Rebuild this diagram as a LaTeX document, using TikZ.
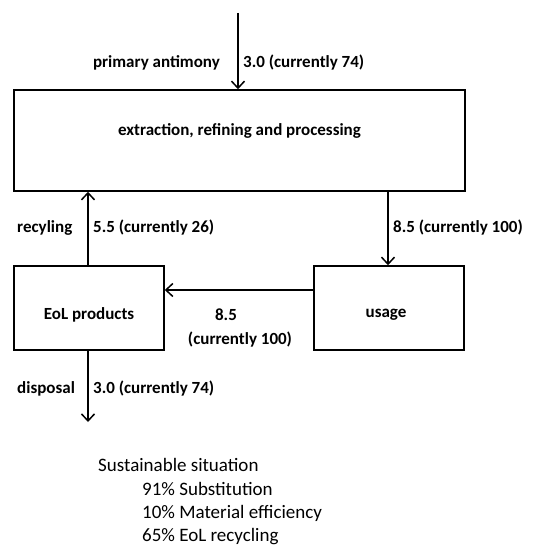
\documentclass[tikz,border=0pt]{standalone}
\usepackage{fontspec}
\setmainfont{Carlito}
\usetikzlibrary{arrows.meta}
\tikzset{
  box/.style={draw, line width=1.5bp, minimum width=#1, inner sep=0pt},
  arr/.style={line width=1.5bp, -{Straight Barb[length=7bp,width=13bp,line width=1.5bp]}},
  lab/.style={font=\fontsize{17bp}{20bp}\selectfont\bfseries, inner sep=0pt},
  sit/.style={font=\fontsize{19bp}{24.5bp}\selectfont, inner sep=0pt, anchor=west}
}
\begin{document}
\begin{tikzpicture}[x=1bp,y=-1bp]
\useasboundingbox (0,0) rectangle (558,547);
% boxes
\node[box=451bp, minimum height=101bp, label={[lab, yshift=10bp]center:extraction, refining and processing}] (ext) at (239.5,140.5) {};
\node[box=150bp, minimum height=84bp, label={[lab, yshift=-7bp]center:EoL products}] (eol) at (89,308) {};
\node[box=150bp, minimum height=84bp, label={[lab, yshift=-7bp, xshift=-3bp]center:usage}] (use) at (389,308) {};
% free ends
\coordinate (src) at (238,13);
\coordinate (sink) at (88,422);
% connectors
\draw[arr] (src) -- (src |- ext.north);
\draw[arr] (eol.north -| 88,0) -- (ext.south -| 88,0);
\draw[arr] (ext.south -| 388,0) -- (use.north -| 388,0);
\draw[arr] ([yshift=18bp]use.west) -- ([yshift=18bp]eol.east);
\draw[arr] (eol.south -| sink) -- (sink);
% flow labels
\node[lab, anchor=east] (l1) at (220,63) {primary antimony};
\node[lab, anchor=west] (l2) at (243,63) {3.0 (currently 74)};
\node[lab, anchor=west] (l3) at (17,228) {recyling};
\node[lab, anchor=west] (l4) at (93,228) {5.5 (currently 26)};
\node[lab, anchor=west] (l5) at (393,228) {8.5 (currently 100)};
\node[lab] (l6) at (226,315) {8.5};
\node[lab] (l7) at (240,340) {(currently 100)};
\node[lab, anchor=west] (l8) at (17,389) {disposal};
\node[lab, anchor=west] (l9) at (93,389) {3.0 (currently 74)};
% sustainable situation
\node[sit] (s0) at (98,465) {Sustainable situation};
\node[sit] (s1) at (142,489) {91\% Substitution};
\node[sit] (s2) at (142,513) {10\% Material efficiency};
\node[sit] (s3) at (142,537) {65\% EoL recycling};
\end{tikzpicture}
\end{document}
